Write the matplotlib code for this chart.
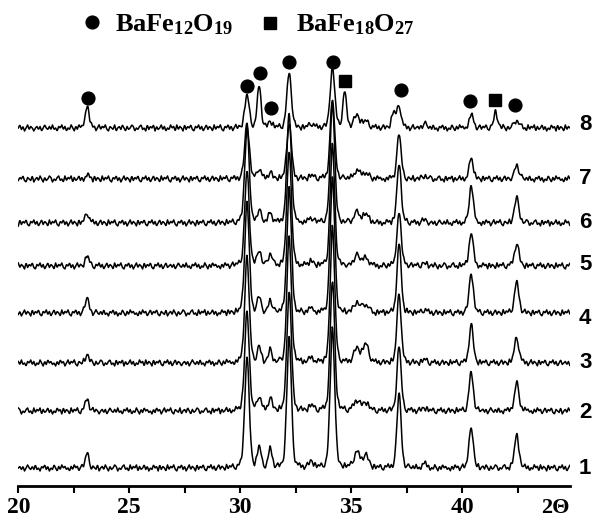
"""XRD patterns of samples 1-8 with hexaferrite phase markers."""

import matplotlib.pyplot as plt
import numpy as np

plt.rcParams["mathtext.fontset"] = "custom"
plt.rcParams["mathtext.rm"] = "Liberation Serif:bold"
plt.rcParams["mathtext.it"] = "Liberation Serif:bold"
plt.rcParams["mathtext.bf"] = "Liberation Serif:bold"

# peak positions (2 theta, deg) and half widths
PEAK_POS = [23.1, 30.3, 30.85, 31.35, 32.2, 33.2, 34.15, 34.7, 35.25, 35.65, 36.9, 37.15, 38.3, 40.4, 41.5, 42.45]
PEAK_HWHM = [0.1, 0.12, 0.1, 0.1, 0.12, 0.12, 0.12, 0.1, 0.16, 0.16, 0.1, 0.11, 0.12, 0.11, 0.1, 0.12]

# peak heights per sample (a.u.)
HEIGHT_1 = [14, 110, 20, 18, 130, 6, 140, 0, 15, 12, 0, 75, 4, 42, 0, 32]
HEIGHT_2 = [12, 100, 14, 12, 120, 5, 130, 0, 10, 8, 0, 65, 3, 38, 0, 28]
HEIGHT_3 = [8, 105, 16, 12, 125, 5, 135, 0, 14, 18, 0, 70, 3, 38, 0, 25]
HEIGHT_4 = [15, 110, 15, 12, 125, 4, 135, 0, 10, 8, 0, 70, 3, 40, 0, 30]
HEIGHT_5 = [10, 95, 15, 12, 115, 4, 120, 0, 10, 8, 0, 55, 3, 33, 0, 22]
HEIGHT_6 = [10, 95, 12, 10, 110, 4, 120, 0, 10, 8, 0, 60, 3, 37, 0, 25]
HEIGHT_7 = [4, 56, 10, 6, 56, 3, 80, 0, 8, 6, 0, 45, 3, 20, 0, 14]
HEIGHT_8 = [23, 32, 42, 6, 55, 4, 60, 35, 12, 6, 15, 22, 4, 13, 16, 8]
HEIGHTS = [HEIGHT_1, HEIGHT_2, HEIGHT_3, HEIGHT_4, HEIGHT_5, HEIGHT_6, HEIGHT_7, HEIGHT_8]

SAMPLE_LABELS = ["1", "2", "3", "4", "5", "6", "7", "8"]
OFFSETS = [18, 75, 123, 173, 220, 263, 307, 358]
LABEL_Y = [18, 73, 124, 168, 221, 264, 308, 362]

# hand-read background noise
BASELINE_WIGGLE = (
    "3424135324252314352413253142534231425341352435214325134253142354132452"
    "3152435142352413253415243152435214352413524315243521435241352431524352"
    "1435241352431524352143524135243152435214352413524315243521435241352431"
    "52435214352413524315243521435241352"
)

# phase markers: (2 theta, marker height)
BAFE12_POS = [23.15, 30.29, 30.9, 31.37, 32.21, 34.19, 37.23, 40.35, 42.38]
BAFE12_Y = [387.7, 400.3, 413, 377.7, 423.7, 424.3, 396, 385.3, 381]
BAFE18_POS = [34.72, 41.48]
BAFE18_Y = [405.3, 386]

X_MIN, X_MAX = 20.0, 44.85
x = np.arange(X_MIN, X_MAX, 0.02)

wig = np.array([int(c) - 3 for c in BASELINE_WIGGLE], dtype=float) * 1.5
wig = np.resize(wig, 360)
wig_x = X_MIN + 0.07 * np.arange(len(wig))

fig = plt.figure(figsize=(5.97, 5.19), dpi=100)
ax = fig.add_axes([18.3 / 597, 33 / 519, (570 - 18.3) / 597, 486 / 519])

for k, (heights, off) in enumerate(zip(HEIGHTS, OFFSETS)):
    noise = np.interp(x, wig_x, np.roll(wig, 53 * k))
    y = np.full_like(x, off) + noise
    for p, w, h in zip(PEAK_POS, PEAK_HWHM, heights):
        d = (x - p) / w
        y += h * (0.75 * np.exp(-np.log(2) * d ** 2) + 0.25 / (1 + d ** 2))
    ax.plot(x, y, color="black", lw=1.1)
    ax.text(45.26, LABEL_Y[k], SAMPLE_LABELS[k], ha="left", va="center",
            fontsize=16, fontweight="bold", family="Liberation Sans", clip_on=False)

ax.plot(BAFE12_POS, BAFE12_Y, "o", color="black", ms=9.2, ls="none", clip_on=False)
ax.plot(BAFE18_POS, BAFE18_Y, "s", color="black", ms=8.3, ls="none", clip_on=False)

# legend line
ax.plot([23.31], [463.7], "o", color="black", ms=9.2, clip_on=False)
ax.plot([31.34], [463.3], "s", color="black", ms=8.3, clip_on=False)
ax.text(24.36, 454.3, r"BaFe$_{12}$O$_{19}$", ha="left", va="baseline",
        fontsize=19, family="Liberation Serif", fontweight="bold")
ax.text(32.51, 454.3, r"BaFe$_{18}$O$_{27}$", ha="left", va="baseline",
        fontsize=19, family="Liberation Serif", fontweight="bold")

ax.set_xlim(X_MIN, X_MAX)
ax.set_ylim(0, 486)
for side in ["top", "left", "right"]:
    ax.spines[side].set_visible(False)
ax.spines["bottom"].set_linewidth(2)
ax.set_yticks([])
ticks = np.arange(20, 43, 2.5)
ax.set_xticks(ticks)
ax.set_xticklabels([f"{t:.0f}" if t % 5 == 0 else "" for t in ticks],
                   family="Liberation Serif", fontweight="bold", fontsize=17)
ax.tick_params(axis="x", direction="out", length=5, width=1.5, pad=3)
ax.text(44.2, -12, "2Θ", ha="center", va="top", fontsize=16,
        family="Liberation Serif", fontweight="bold", clip_on=False)

fig.savefig("out.png", dpi=100)
